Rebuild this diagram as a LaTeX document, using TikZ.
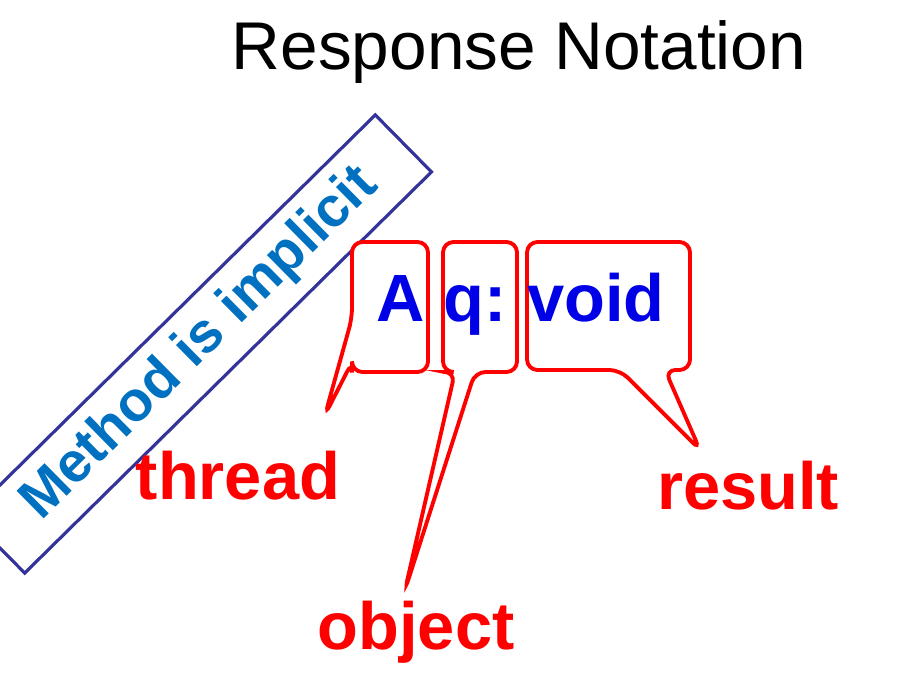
\documentclass[tikz,border=0pt]{standalone}
\usepackage{fontspec}
\setmainfont{Liberation Sans}
\definecolor{callred}{RGB}{255,0,0}
\definecolor{notblue}{RGB}{0,0,230}
\definecolor{methblue}{RGB}{0,112,192}
\definecolor{framblue}{RGB}{51,51,153}
\tikzset{callout/.style={draw=callred,line width=1.1pt,rounded corners=3pt,fill=white},
  redlabel/.style={text=callred,font=\fontsize{19}{22}\selectfont\bfseries},
  bluetext/.style={text=notblue,anchor=base,font=\fontsize{19}{22}\selectfont\bfseries}}
\begin{document}
\begin{tikzpicture}[x=0.01cm,y=-0.01cm]
\useasboundingbox (0,0) rectangle (904,695);
\node at (519,52) (Title) {\fontsize{19.2}{22}\selectfont Response Notation};
% Rotated method box
\node at (200,344) [rotate=44.6,draw=framblue,line width=0.9pt,minimum width=5.71cm,minimum height=0.8cm,text=methblue,font=\fontsize{16}{19}\selectfont\bfseries] (Method) {Method is implicit};
% Callouts
\draw[callout] (352,242) -- (428,242) -- (428,372) -- (352,372) -- (352,362) -- (325,415) -- (352,318) -- cycle;
\draw[callout] (443,242) -- (517,242) -- (517,372) -- (475,372) -- (405,590) -- (455,372) -- (443,372) -- cycle;
\draw[callout] (527,242) -- (690,242) -- (690,370) -- (665,370) -- (700,450) -- (620,370) -- (527,370) -- cycle;
% Response text
\node at (401,322) [bluetext] (Thread) {A};
\node at (475,322) [bluetext] (Object) {q:};
\node at (596,322) [bluetext] (Result) {void};
% Labels
\node at (238,476) [redlabel] (ThreadLbl) {thread};
\node at (416,632) [redlabel] (ObjectLbl) {object};
\node at (748,486) [redlabel] (ResultLbl) {result};
\end{tikzpicture}
\end{document}
